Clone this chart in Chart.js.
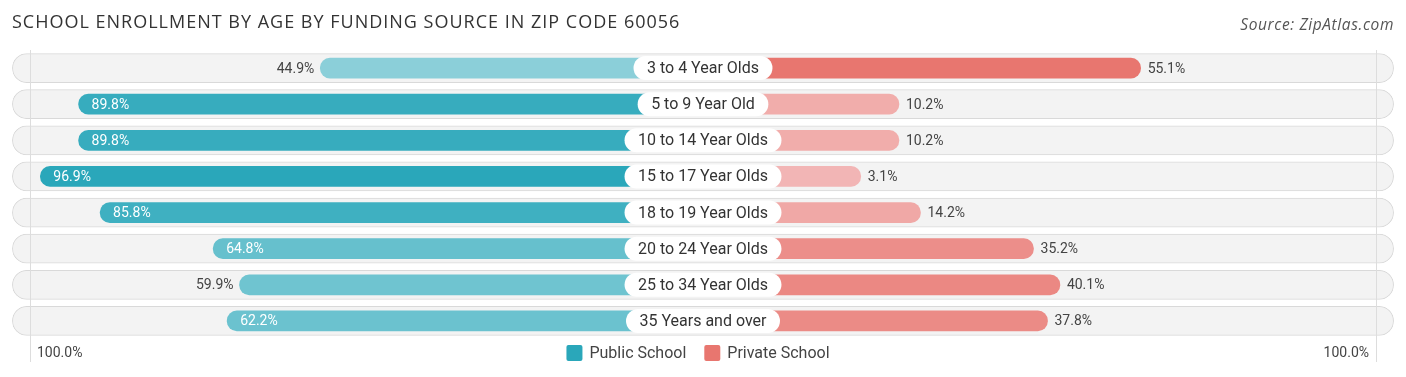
<!DOCTYPE html>
<html lang="en">
<head>
    <meta charset="UTF-8">
    <title>School Enrollment by Age by Funding Source</title>
    <script src="https://cdn.jsdelivr.net/npm/chart.js"></script>
    <style>
        body { margin: 0; background: #fff; font-family: Roboto, sans-serif; }
        .wrap { position: relative; width: 1406px; height: 377px; }
        .title { position: absolute; left: 12px; top: 9px; font-family: "Open Sans", sans-serif; font-size: 18px; letter-spacing: 1px; color: #333; }
        .source { position: absolute; right: 12px; top: 13px; font-family: "Open Sans", sans-serif; font-size: 15.5px; letter-spacing: 0.6px; font-style: italic; color: #555; }
        .chart-box { position: absolute; left: 0; top: 0; width: 1406px; height: 377px; }
    </style>
</head>
<body>
<div class="wrap">
    <div class="chart-box"><canvas id="chart"></canvas></div>
    <div class="title">SCHOOL ENROLLMENT BY AGE BY FUNDING SOURCE IN ZIP CODE 60056</div>
    <div class="source">Source: ZipAtlas.com</div>
</div>

<script>
    const categories = ["3 to 4 Year Olds", "5 to 9 Year Old", "10 to 14 Year Olds", "15 to 17 Year Olds",
        "18 to 19 Year Olds", "20 to 24 Year Olds", "25 to 34 Year Olds", "35 Years and over"];
    const publicSchool = [44.9, 89.8, 89.8, 96.9, 85.8, 64.8, 59.9, 62.2];
    const privateSchool = [55.1, 10.2, 10.2, 3.1, 14.2, 35.2, 40.1, 37.8];
    const seriesNames = ["Public School", "Private School"];
    const axisLabels = ["100.0%", "100.0%"];

    // room left in the middle for the category label
    const GAP = 26.2;
    const PILL = 128.3;
    const LIMIT = 130.6;

    const publicDark = [42, 167, 186], publicLight = [223, 242, 244];
    const privateDark = [232, 118, 111], privateLight = [243, 185, 185];

    function shade(light, dark, t) {
        const c = light.map((l, k) => Math.round(l + (dark[k] - l) * t));
        return `rgb(${c[0]},${c[1]},${c[2]})`;
    }
    const pubMax = Math.max(...publicSchool);
    const privMax = Math.max(...privateSchool);
    const publicColors = publicSchool.map(v => shade(publicLight, publicDark, v / pubMax));
    const privateColors = privateSchool.map(v => shade(privateLight, privateDark, v / privMax));

    function pill(ctx, x, y, w, h) {
        const r = h / 2;
        ctx.beginPath();
        ctx.moveTo(x + r, y);
        ctx.lineTo(x + w - r, y);
        ctx.arc(x + w - r, y + r, r, -Math.PI / 2, Math.PI / 2);
        ctx.lineTo(x + r, y + h);
        ctx.arc(x + r, y + r, r, Math.PI / 2, Math.PI * 1.5);
        ctx.closePath();
    }

    const labelPlugin = {
        id: "labels",
        afterDatasetsDraw(chart) {
            const ctx = chart.ctx;
            const xs = chart.scales.x, ys = chart.scales.y;
            const cx = xs.getPixelForValue(0);
            ctx.save();

            // thin side lines
            ctx.strokeStyle = "#dddddd";
            ctx.lineWidth = 1;
            [-125, 125].forEach(v => {
                const px = Math.round(xs.getPixelForValue(v)) + 0.5;
                ctx.beginPath();
                ctx.moveTo(px, 50);
                ctx.lineTo(px, 362);
                ctx.stroke();
            });

            ctx.textBaseline = "middle";
            categories.forEach((cat, i) => {
                const y = ys.getPixelForValue(i);

                // value labels
                ctx.font = "14px Roboto";
                const pubEdge = xs.getPixelForValue(-(GAP + publicSchool[i]));
                const pubText = publicSchool[i].toFixed(1) + "%";
                if (publicSchool[i] >= 60) {
                    ctx.fillStyle = "#ffffff";
                    ctx.textAlign = "left";
                    ctx.fillText(pubText, pubEdge + 13, y + 1);
                } else {
                    ctx.fillStyle = "#444444";
                    ctx.textAlign = "right";
                    ctx.fillText(pubText, pubEdge - 6, y + 1);
                }
                const privEdge = xs.getPixelForValue(GAP + privateSchool[i]);
                ctx.fillStyle = "#444444";
                ctx.textAlign = "left";
                ctx.fillText(privateSchool[i].toFixed(1) + "%", privEdge + 7, y + 1);

                // category label
                ctx.font = "16px Roboto";
                const w = ctx.measureText(cat).width + 27;
                ctx.fillStyle = "#ffffff";
                pill(ctx, cx - w / 2, y - 12, w, 24);
                ctx.fill();
                ctx.fillStyle = "#333333";
                ctx.textAlign = "center";
                ctx.fillText(cat, cx, y + 1);
            });

            // bottom axis labels
            ctx.font = "14px Roboto";
            ctx.fillStyle = "#444444";
            ctx.textAlign = "left";
            ctx.fillText(axisLabels[0], 37, 353);
            ctx.textAlign = "right";
            ctx.fillText(axisLabels[1], 1369, 353);

            // legend
            ctx.font = "16px Roboto";
            const colors = [publicDark, privateDark].map(c => `rgb(${c[0]},${c[1]},${c[2]})`);
            const widths = seriesNames.map(n => 16 + 7 + ctx.measureText(n).width);
            let lx = 698 - (widths[0] + 18 + widths[1]) / 2;
            seriesNames.forEach((n, k) => {
                ctx.fillStyle = colors[k];
                ctx.beginPath();
                ctx.roundRect(lx, 345, 16, 16, 2);
                ctx.fill();
                ctx.fillStyle = "#444444";
                ctx.textAlign = "left";
                ctx.fillText(n, lx + 23, 354);
                lx += widths[k] + 18;
            });
            ctx.restore();
        }
    };

    new Chart(document.getElementById("chart"), {
        type: "bar",
        data: {
            labels: categories,
            datasets: [
                {
                    label: "Private School",
                    data: privateSchool.map(v => GAP + v),
                    backgroundColor: privateColors,
                    borderRadius: 10,
                    barThickness: 20,
                    grouped: false,
                    order: 1
                },
                {
                    label: "Public School",
                    data: publicSchool.map(v => -(GAP + v)),
                    backgroundColor: publicColors,
                    borderRadius: 10,
                    barThickness: 20,
                    grouped: false,
                    order: 1
                },
                {
                    label: "row",
                    data: categories.map(() => [-PILL, PILL]),
                    backgroundColor: "#f3f3f3",
                    borderColor: "#d9d9d9",
                    borderWidth: 1,
                    borderRadius: 15,
                    borderSkipped: false,
                    barThickness: 29,
                    grouped: false,
                    order: 5
                }
            ]
        },
        options: {
            indexAxis: "y",
            responsive: true,
            maintainAspectRatio: false,
            animation: false,
            layout: { padding: { top: 50, bottom: 38, left: 0, right: 0 } },
            scales: {
                x: { display: false, min: -LIMIT, max: LIMIT },
                y: { display: false }
            },
            plugins: {
                legend: { display: false },
                tooltip: { enabled: false }
            }
        },
        plugins: [labelPlugin]
    });
</script>
</body>
</html>
